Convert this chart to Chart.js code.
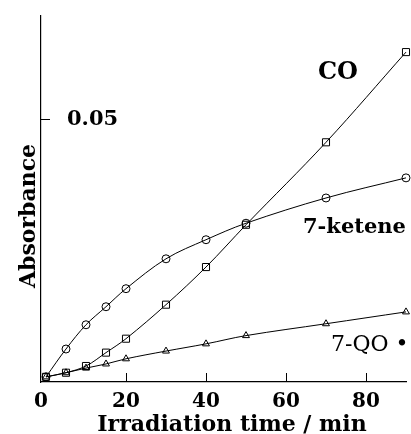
<html>
<head>
  <script src="https://cdn.jsdelivr.net/npm/chart.js"></script>
  <style>
    body { margin: 0; background: #fff; }
  </style>
</head>
<body>
<canvas id="myChart" width="411" height="434"></canvas>
<script>
  // irradiation time (min)
  const times = [0, 5, 10, 15, 20, 30, 40, 50, 70, 90];
  // absorbance
  const coValues     = [0, 0.0008, 0.0021, 0.0047, 0.0074, 0.0140, 0.0213, 0.0295, 0.0455, 0.0630];
  const keteneValues = [0, 0.0054, 0.0101, 0.0136, 0.0171, 0.0229, 0.0266, 0.0298, 0.0347, 0.0386];
  const qoValues     = [0, 0.0008, 0.0017, 0.0025, 0.0035, 0.0050, 0.0064, 0.0080, 0.0103, 0.0126];
  const xTicks = [0, 20, 40, 60, 80];
  const yTicks = [0.05];
  const xMin = -1.25, xMax = 90;

  const serif = '"DejaVu Serif", serif';

  function points(vals) {
    return times.map((t, i) => ({ x: t, y: vals[i] }));
  }

  function series(vals, style, r) {
    return {
      data: points(vals),
      pointStyle: style,
      pointRadius: r,
      pointBorderWidth: 1,
      pointBorderColor: '#000',
      pointBackgroundColor: 'rgba(255,255,255,0)',
      borderColor: '#000',
      borderWidth: 1,
      showLine: true,
      tension: 0.35,
      clip: false
    };
  }

  // inner tick marks and free text labels
  const decorations = {
    id: 'decorations',
    afterDraw(chart) {
      const ctx = chart.ctx;
      const xs = chart.scales.x, ys = chart.scales.y;
      const area = chart.chartArea;
      ctx.save();
      ctx.strokeStyle = '#000';
      ctx.lineWidth = 1;
      ctx.beginPath();
      xTicks.filter(v => v > 0).forEach(v => {
        const px = Math.round(xs.getPixelForValue(v)) + 0.5;
        ctx.moveTo(px, area.bottom);
        ctx.lineTo(px, area.bottom - 9);
      });
      yTicks.forEach(v => {
        const py = Math.round(ys.getPixelForValue(v)) + 0.5;
        ctx.moveTo(area.left, py);
        ctx.lineTo(area.left + 9, py);
      });
      ctx.stroke();

      ctx.fillStyle = '#000';
      ctx.textBaseline = 'alphabetic';
      ctx.textAlign = 'left';
      ctx.font = 'bold 24px ' + serif;
      ctx.fillText('CO', 318, 79);
      ctx.font = 'bold 21px ' + serif;
      ctx.fillText('7-ketene', 303, 233);
      ctx.font = '22px ' + serif;
      ctx.fillText('7-QO \u2022', 331, 351);

      ctx.textAlign = 'center';
      ctx.font = 'bold 22px ' + serif;
      ctx.fillText('Irradiation time / min', 232, 431);
      ctx.translate(35, 216);
      ctx.rotate(-Math.PI / 2);
      ctx.fillText('Absorbance', 0, 0);
      ctx.restore();
    }
  };

  new Chart(document.getElementById('myChart'), {
    type: 'scatter',
    data: {
      datasets: [
        series(coValues, 'rect', 5),
        series(keteneValues, 'circle', 4),
        series(qoValues, 'triangle', 4)
      ]
    },
    options: {
      responsive: false,
      animation: false,
      layout: { autoPadding: false, padding: { top: 16, right: 5, left: 0, bottom: 0 } },
      plugins: { legend: { display: false }, tooltip: { enabled: false } },
      scales: {
        x: {
          type: 'linear',
          min: xMin,
          max: xMax,
          afterFit: s => {
            s.height = 52;
            s.paddingLeft = 0;
            s.paddingRight = 0;
          },
          afterBuildTicks: s => {
            // the "0" label sits at the axis corner in the original
            s.ticks = xTicks.map(v => ({ value: v === 0 ? xMin : v }));
          },
          ticks: {
            padding: 8,
            color: '#000',
            font: { family: serif, size: 20, weight: 'bold' },
            callback: v => (v < 1 ? '0' : String(v))
          },
          grid: { display: false, drawTicks: false },
          border: { display: true, color: '#000', width: 1.2 }
        },
        y: {
          min: -0.001,
          max: 0.07,
          afterFit: s => {
            s.width = 41;
            s.paddingTop = 0;
            s.paddingBottom = 0;
          },
          afterBuildTicks: s => { s.ticks = yTicks.map(v => ({ value: v })); },
          ticks: {
            mirror: true,
            padding: 26,
            color: '#000',
            font: { family: serif, size: 21, weight: 'bold' },
            callback: v => v.toFixed(2)
          },
          grid: { display: false, drawTicks: false },
          border: { display: true, color: '#000', width: 1.2 }
        }
      }
    },
    plugins: [decorations]
  });
</script>
</body>
</html>
